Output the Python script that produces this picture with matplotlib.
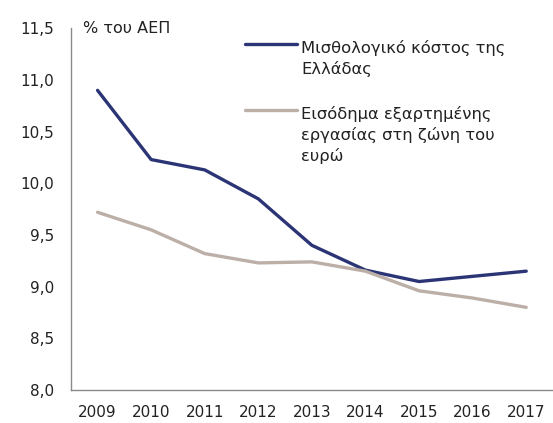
import matplotlib
matplotlib.use("Agg")
import matplotlib.pyplot as plt

years = ["2009", "2010", "2011", "2012", "2013", "2014", "2015", "2016", "2017"]
greece_cost = [10.90, 10.23, 10.13, 9.85, 9.40, 9.16, 9.05, 9.10, 9.15]
euro_income = [9.72, 9.55, 9.32, 9.23, 9.24, 9.15, 8.96, 8.89, 8.80]
y_ticks = [8.0, 8.5, 9.0, 9.5, 10.0, 10.5, 11.0, 11.5]
label_greece = "Μισθολογικό κόστος της\nΕλλάδας"
label_euro = "Εισόδημα εξαρτημένης\nεργασίας στη ζώνη του\nευρώ"

NAVY = "#2b3475"
TAUPE = "#bcafa7"
plt.rcParams["font.family"] = ["DejaVu Sans"]

fig = plt.figure(figsize=(5.53, 4.23), dpi=100)
ax = fig.add_axes([0.128, 0.078, 0.872, 0.855])

x = range(len(years))
ax.plot(x, greece_cost, color=NAVY, lw=2.4, solid_capstyle="round")
ax.plot(x, euro_income, color=TAUPE, lw=2.4, solid_capstyle="round")

ax.set_xlim(-0.5, len(years) - 0.5)
ax.set_ylim(8.0, 11.5)
ax.set_xticks(list(x))
ax.set_xticklabels(years)
ax.set_yticks(y_ticks)
ax.set_yticklabels([f"{v:.1f}".replace(".", ",") for v in y_ticks])
ax.tick_params(length=0, labelsize=11, colors="#222222")
ax.tick_params(axis="y", pad=12)
ax.tick_params(axis="x", pad=11)

for s in ["top", "right"]:
    ax.spines[s].set_visible(False)
for s in ["left", "bottom"]:
    ax.spines[s].set_color("#8a8a8a")
    ax.spines[s].set_linewidth(1.0)

ax.text(0.025, 1.0, "% του ΑΕΠ", transform=ax.transAxes, fontsize=11.5,
        va="center", ha="left", color="#222222")

# custom legend, key line sits on the first text line
for yl, col, lab in [(0.958, NAVY, label_greece), (0.775, TAUPE, label_euro)]:
    ax.plot([0.362, 0.470], [yl, yl], transform=ax.transAxes, color=col,
            lw=2.4, solid_capstyle="round", clip_on=False)
    ax.text(0.478, yl + 0.010, lab, transform=ax.transAxes, fontsize=11.8,
            va="top", ha="left", color="#222222", linespacing=1.4)

fig.savefig("out.png", dpi=100)
